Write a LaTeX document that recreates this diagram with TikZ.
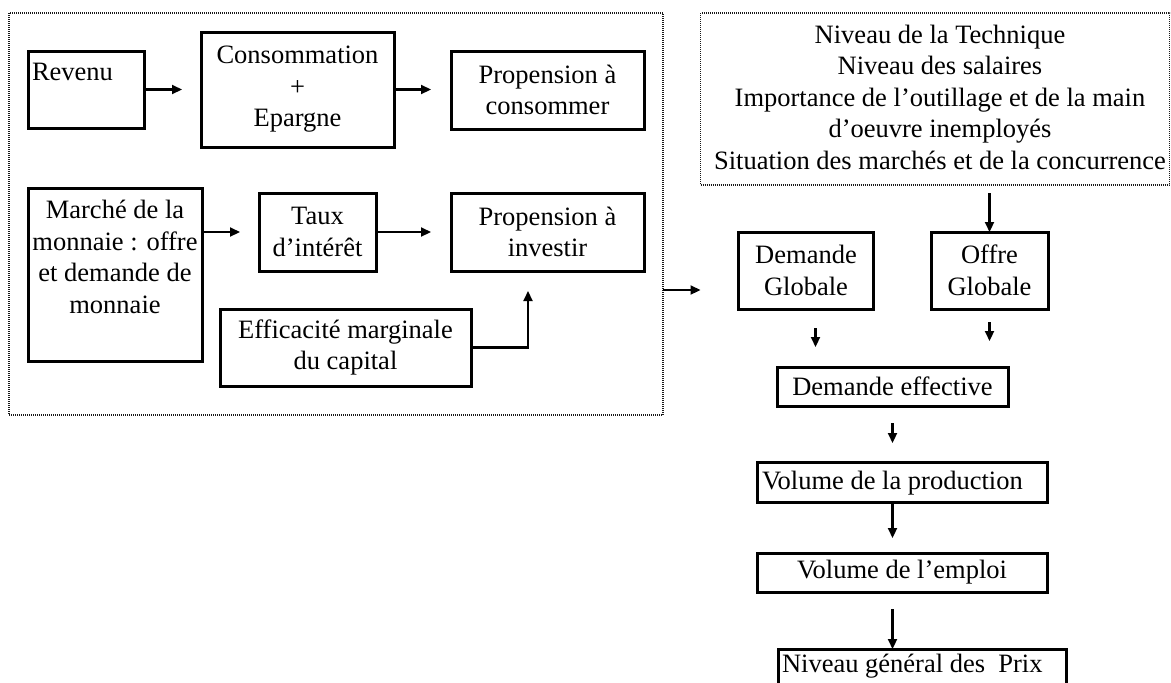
\documentclass[tikz,border=0pt]{standalone}
\usepackage{fontspec}
\setmainfont{Liberation Serif}
\usetikzlibrary{arrows.meta}
\begin{document}
\begin{tikzpicture}[x=1pt,y=-1pt,
  every node/.style={inner sep=0pt,outer sep=0pt},
  txt/.style={font=\fontsize{26.5}{31.5}\selectfont, align=center},
  boxx/.style={draw, line width=3pt, txt},
  dotbox/.style={draw, line width=1.1pt, dash pattern=on 1pt off 1pt, black!90},
  arr/.style={line width=2.2pt, -{Triangle[length=10pt,width=9pt]}}]
\useasboundingbox (0,0) rectangle (1171,683);
\clip (0,0) rectangle (1171,683);
\fill[white] (0,0) rectangle (1171,683);
% dotted frames
\node[dotbox, minimum width=654pt, minimum height=402pt] (outer) at (336,214) {};
\node[dotbox, minimum width=469pt, minimum height=172pt] (topr) at (935,99) {};
\node[txt] (toprt) at (940,97) {Niveau de la Technique\\Niveau des salaires\\Importance de l’outillage et de la main\\d’oeuvre inemployés\\Situation des marchés et de la concurrence};
% left part
\node[boxx, minimum width=116pt, minimum height=77pt] (rev) at (86,89.5) {};
\node[txt, anchor=base west] (revt) at (32,80) {Revenu};
\node[boxx, minimum width=193pt, minimum height=115pt] (conso) at (297.5,89.5) {Consommation\\+\\Epargne};
\node[boxx, minimum width=193pt, minimum height=78pt] (propc) at (547.5,90) {Propension à\\consommer};
\node[boxx, minimum width=174pt, minimum height=173pt] (marche) at (115,274.5) {};
\node[txt] (marchet) at (115,257) {Marché de la\\monnaie : offre\\et demande de\\monnaie};
\node[boxx, minimum width=117pt, minimum height=78pt] (taux) at (317.5,232) {Taux\\d’intérêt};
\node[boxx, minimum width=193pt, minimum height=78pt] (propi) at (547.5,232) {Propension à\\investir};
\node[boxx, minimum width=251pt, minimum height=77pt] (eff) at (345.5,347.5) {Efficacité marginale\\du capital};
% right part
\node[boxx, minimum width=135pt, minimum height=77pt] (dg) at (806,270.5) {Demande\\Globale};
\node[boxx, minimum width=117pt, minimum height=77pt] (og) at (989.5,270.5) {Offre\\Globale};
\node[boxx, minimum width=231pt, minimum height=39pt] (de) at (892.5,386.5) {Demande effective};
\node[boxx, minimum width=290pt, minimum height=40pt] (vp) at (902,482.5) {};
\node[txt, anchor=west] (vpt) at (762,483) {Volume de la production};
\node[boxx, minimum width=290pt, minimum height=39pt] (ve) at (902,572.5) {Volume de l’emploi};
\node[boxx, minimum width=288pt, minimum height=40pt] (ng) at (922,669) {};
\node[txt, anchor=west] (ngt) at (782,666) {Niveau général des\ \ Prix};
% connectors
\draw[arr, shorten >=19pt] (rev) -- (conso);
\draw[arr, shorten >=20pt] (conso.east) -- (conso.east -| propc.west);
\draw[arr, shorten >=19pt] (marche.east |- taux.west) -- (taux.west);
\draw[arr, shorten >=20pt] (taux.east) -- (propi.west);
\draw[arr, shorten >=20pt] (eff.east) -| ([xshift=-19.5pt]propi.south);
\draw[arr, shorten >=38pt] ([yshift=-19.5pt]dg.west -| outer.east) -- ([yshift=-19.5pt]dg.west);
\draw[arr, shorten <=8pt] (topr.south -| og.north) -- (og.north);
\draw[arr, shorten <=19pt, shorten >=20pt] ([xshift=9.5pt]dg.south) -- ([xshift=9.5pt]dg.south |- de.north);
\draw[arr, shorten <=13pt, shorten >=26pt] (og.south) -- (og.south |- de.north);
\draw[arr, shorten <=17pt, shorten >=19.5pt] (de.south) -- (de.south |- vp.north);
\draw[arr, shorten >=15pt] (de.south |- vp.south) -- (de.south |- ve.north);
\draw[arr, shorten <=17pt] (de.south |- ve.south) -- (de.south |- ng.north);
\end{tikzpicture}
\end{document}
